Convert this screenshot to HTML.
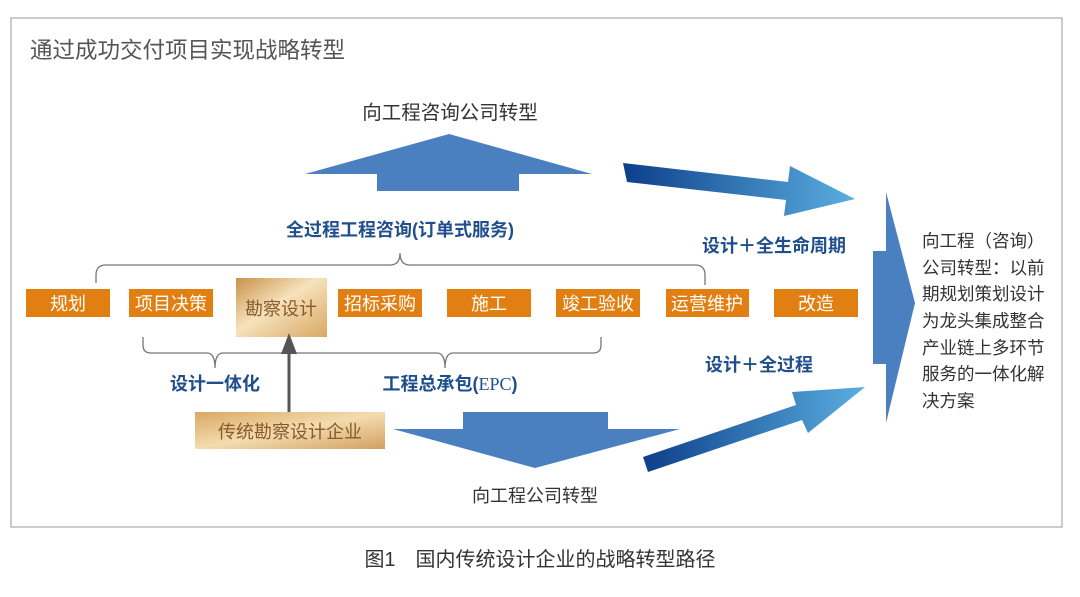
<!DOCTYPE html>
<html><head><meta charset="utf-8"><style>
html,body{margin:0;padding:0;background:#fff;}
svg{display:block;font-family:"Liberation Sans","Noto Sans CJK SC",sans-serif;}
</style></head><body>
<svg width="1080" height="597" viewBox="0 0 1080 597" xmlns="http://www.w3.org/2000/svg">
<defs>
<linearGradient id="gold" x1="0" y1="0" x2="1" y2="1">
<stop offset="0" stop-color="#c8924a"/><stop offset="0.45" stop-color="#f6e2bd"/><stop offset="1" stop-color="#d9a862"/>
</linearGradient>
<linearGradient id="gold2" x1="0" y1="0" x2="1" y2="1">
<stop offset="0" stop-color="#d9a862"/><stop offset="0.5" stop-color="#f3dcb0"/><stop offset="1" stop-color="#d2a060"/>
</linearGradient>
<linearGradient id="blueG" x1="0" y1="0" x2="1" y2="0">
<stop offset="0" stop-color="#0d3f8a"/><stop offset="1" stop-color="#5aaee0"/>
</linearGradient>
</defs>
<rect x="11" y="18" width="1051" height="509" fill="none" stroke="#aaa" stroke-width="1.2"/>
<text x="30" y="58" font-size="22.5" fill="#555">通过成功交付项目实现战略转型</text>

<text x="450" y="119" font-size="19.5" fill="#333" text-anchor="middle">向工程咨询公司转型</text>
<polygon points="305,174 449,134 592,174 519,174 519,191 377,191 377,174" fill="#4a7fc0"/>

<text x="400" y="236" font-size="18" font-weight="bold" fill="#1f4e8c" text-anchor="middle">全过程工程咨询(订单式服务)</text>
<path d="M96,283 L96,275 Q96,265 106,265 L390,265 Q400,265 400,253 Q400,265 410,265 L695,265 Q705,265 705,275 L705,285" fill="none" stroke="#777" stroke-width="1.3"/>

<g font-size="18" fill="#fff" text-anchor="middle">
<rect x="26" y="289" width="84" height="28" fill="#e17f12"/><text x="68" y="310">规划</text>
<rect x="129" y="289" width="84" height="28" fill="#e17f12"/><text x="171" y="310">项目决策</text>
<rect x="338" y="289" width="84" height="28" fill="#e17f12"/><text x="380" y="310">招标采购</text>
<rect x="447" y="289" width="84" height="28" fill="#e17f12"/><text x="489" y="310">施工</text>
<rect x="556" y="289" width="84" height="28" fill="#e17f12"/><text x="598" y="310">竣工验收</text>
<rect x="666" y="289" width="83" height="28" fill="#e17f12"/><text x="707" y="310">运营维护</text>
<rect x="774" y="289" width="84" height="28" fill="#e17f12"/><text x="816" y="310">改造</text>
</g>
<rect x="236" y="278" width="91" height="59" fill="url(#gold)"/>
<text x="281" y="315" font-size="18" fill="#8a5a2a" text-anchor="middle">勘察设计</text>

<path d="M143,337 L143,345 Q143,353 151,353 L207,353 Q215,353 215,368 Q215,353 223,353 L437,353 Q445,353 445,368 Q445,353 453,353 L593,353 Q601,353 601,345 L601,337" fill="none" stroke="#777" stroke-width="1.3"/>
<text x="215" y="390" font-size="18" font-weight="bold" fill="#1f4e8c" text-anchor="middle">设计一体化</text>
<text x="450" y="390" font-size="18" font-weight="bold" fill="#1f4e8c" text-anchor="middle">工程总承包(<tspan font-weight="normal" font-family="Liberation Serif,serif">EPC</tspan>)</text>

<line x1="289" y1="412" x2="289" y2="350" stroke="#555" stroke-width="3"/>
<polygon points="281,354 289,333 297,354" fill="#555"/>
<rect x="195" y="412" width="190" height="37" fill="url(#gold2)"/>
<text x="290" y="438" font-size="18" fill="#8a5a2a" text-anchor="middle">传统勘察设计企业</text>

<polygon points="463,412 608,412 608,429 680,429 535,468 393,429 463,429" fill="#4a7fc0"/>
<text x="535" y="502" font-size="18" fill="#333" text-anchor="middle">向工程公司转型</text>

<polygon points="623,163 788,182 790,166 855,199 784,216 786,200 627,182" fill="url(#blueG)"/>
<polygon points="643,457 796,405 792,392 865,387 808,433 802,420 648,472" fill="url(#blueG)"/>

<text x="702" y="252" font-size="18" font-weight="bold" fill="#1f4e8c">设计＋全生命周期</text>
<text x="705" y="371" font-size="18" font-weight="bold" fill="#1f4e8c">设计＋全过程</text>

<polygon points="873,251 886,251 886,192 915,303 886,423 886,364 873,364" fill="#4a7fc0"/>

<g font-size="17.5" fill="#333">
<text x="922" y="247">向工程（咨询）</text>
<text x="922" y="274">公司转型：以前</text>
<text x="922" y="300">期规划策划设计</text>
<text x="922" y="327">为龙头集成整合</text>
<text x="922" y="354">产业链上多环节</text>
<text x="922" y="380">服务的一体化解</text>
<text x="922" y="407">决方案</text>
</g>

<text x="540" y="566" font-size="20" fill="#333" text-anchor="middle">图1　国内传统设计企业的战略转型路径</text>
</svg>
</body></html>
